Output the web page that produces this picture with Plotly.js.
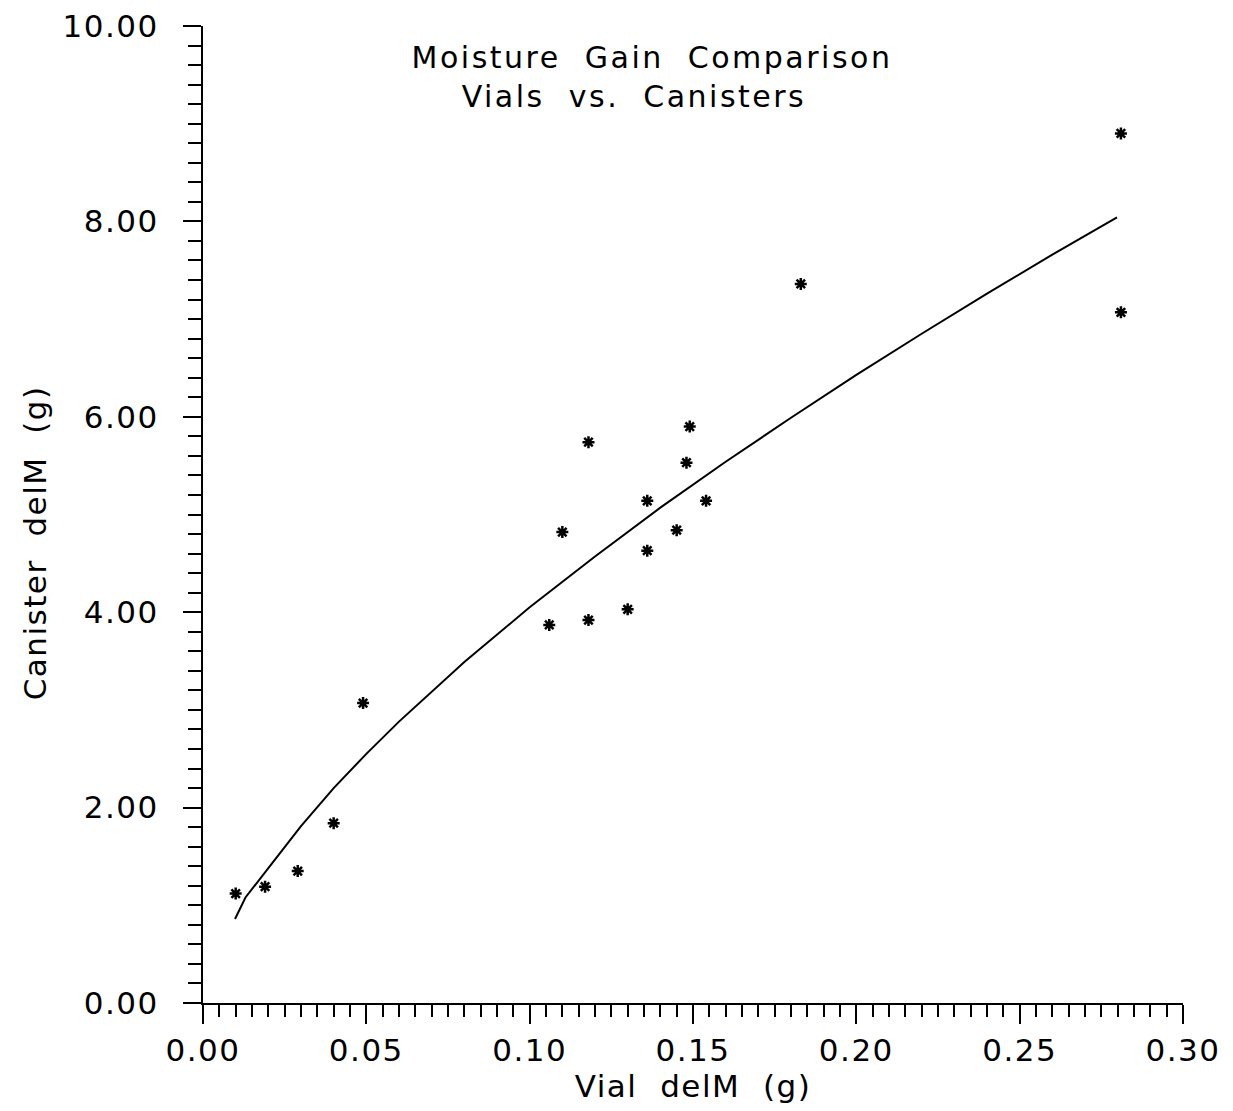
<!DOCTYPE html>
<html>
<head>
<meta charset="utf-8">
<script src="https://cdn.plot.ly/plotly-3.0.1.min.js"></script>
<style>
html,body{margin:0;padding:0;background:#fff;}
.main-svg text{letter-spacing:1.5px;}
.main-svg .gtitle{letter-spacing:2.5px;}
</style>
</head>
<body>
<div id="chart" style="width:1233px;height:1111px;"></div>
<script>
// Measured data points (Vial delM, Canister delM)
const vialDelM = [0.010, 0.019, 0.029, 0.040, 0.049, 0.106, 0.110, 0.118, 0.118, 0.130, 0.136, 0.136, 0.145, 0.148, 0.149, 0.154, 0.183, 0.281, 0.281];
const canisterDelM = [1.12, 1.19, 1.35, 1.84, 3.07, 3.87, 4.82, 3.92, 5.74, 4.03, 5.14, 4.63, 4.84, 5.53, 5.90, 5.14, 7.36, 8.90, 7.07];

// Fitted curve
const fitX = [0.0098, 0.013, 0.020, 0.030, 0.040, 0.050, 0.060, 0.080, 0.100, 0.120, 0.140, 0.160, 0.180, 0.200, 0.220, 0.240, 0.260, 0.2798];
const fitY = [0.86, 1.08, 1.38, 1.81, 2.20, 2.55, 2.88, 3.49, 4.05, 4.57, 5.07, 5.54, 5.99, 6.43, 6.85, 7.26, 7.66, 8.04];

const titleLines = ["Moisture  Gain  Comparison", "Vials  vs.  Canisters"];
const xTitle = "Vial  delM  (g)";
const yTitle = "Canister  delM  (g)";

const FONT = "DejaVu Sans, sans-serif";
const NB = "&nbsp;";

const traces = [
  {
    x: fitX, y: fitY, type: "scatter", mode: "lines",
    line: {color: "#000", width: 2},
    hoverinfo: "skip", showlegend: false
  },
  {
    x: vialDelM, y: canisterDelM, type: "scatter", mode: "markers",
    marker: {symbol: "asterisk", size: 10, color: "#000", line: {color: "#000", width: 2.5}},
    showlegend: false
  }
];

const layout = {
  width: 1233, height: 1111,
  paper_bgcolor: "#fff", plot_bgcolor: "#fff",
  margin: {l: 203, r: 50, t: 26, b: 108},
  font: {family: FONT, color: "#000", size: 31},
  title: {
    text: titleLines[0] + "<br>" + titleLines[1] + NB.repeat(3),
    font: {family: FONT, size: 30, color: "#000"},
    x: 652 / 1233, xanchor: "center",
    y: 1 - 68 / 1111, yanchor: "top", yref: "container"
  },
  xaxis: {
    range: [0, 0.30],
    tickmode: "linear", tick0: 0, dtick: 0.05, tickformat: ".2f",
    ticks: "outside", ticklen: 19, tickwidth: 2, tickcolor: "#000",
    minor: {ticks: "outside", dtick: 0.005, ticklen: 12, tickwidth: 2, tickcolor: "#000", showgrid: false},
    showline: true, linecolor: "#000", linewidth: 2,
    showgrid: false, zeroline: false,
    tickfont: {family: FONT, size: 31, color: "#000"},
    title: {text: xTitle, font: {family: FONT, size: 31, color: "#000"}, standoff: 8}
  },
  yaxis: {
    range: [0, 10],
    tickmode: "linear", tick0: 0, dtick: 2, tickformat: ".2f",
    ticks: "outside", ticklen: 18, tickwidth: 2, tickcolor: "#000",
    minor: {ticks: "outside", dtick: 0.2, ticklen: 13, tickwidth: 2, tickcolor: "#000", showgrid: false},
    showline: true, linecolor: "#000", linewidth: 2,
    showgrid: false, zeroline: false,
    tickfont: {family: FONT, size: 31, color: "#000"},
    ticklabelstandoff: 18,
    title: {text: yTitle + NB.repeat(5), font: {family: FONT, size: 31, color: "#000"}, standoff: 14}
  }
};

Plotly.newPlot("chart", traces, layout, {staticPlot: true, displayModeBar: false});
</script>
</body>
</html>
